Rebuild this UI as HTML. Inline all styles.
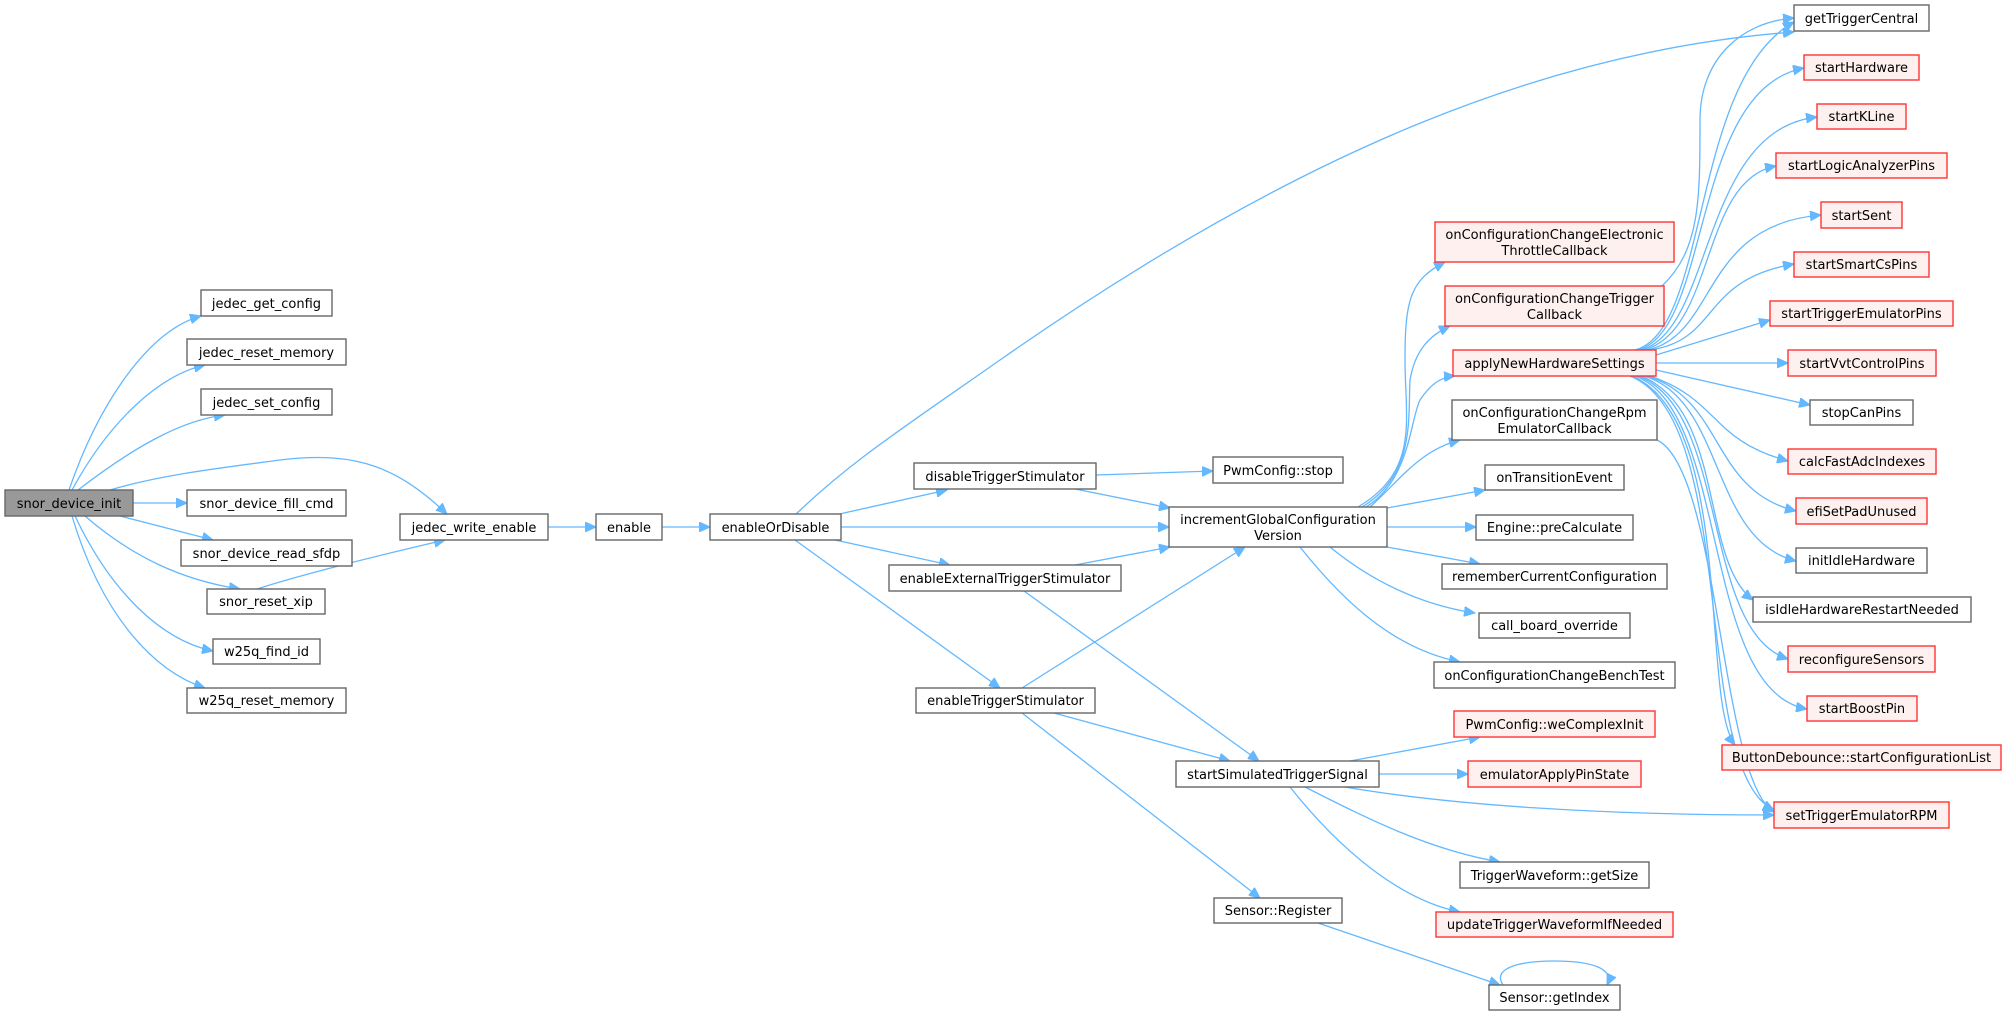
<!DOCTYPE html>
<html><head><meta charset="utf-8"><style>
html,body{margin:0;padding:0;background:#fff;}
svg{display:block;}
text{font-family:"DejaVu Sans","Liberation Sans",sans-serif;font-size:13px;fill:#000;}
.n rect{fill:#fff;stroke:#666;stroke-width:1.4;}
.r rect{fill:#fff0f0;stroke:#ff3333;stroke-width:1.4;}
.g rect{fill:#999;stroke:#666;stroke-width:1.4;}
path.e{fill:none;stroke:#63b8ff;stroke-width:1.3;marker-end:url(#a);}
</style></head><body>
<svg width="2007" height="1016" viewBox="0 0 2007 1016" xmlns="http://www.w3.org/2000/svg">
<defs><marker id="a" markerUnits="userSpaceOnUse" markerWidth="12" markerHeight="10" refX="11" refY="5" orient="auto"><path d="M0,0 L11,5 L0,10 z" fill="#63b8ff" stroke="#63b8ff"/></marker></defs>

<!-- edges -->
<path class="e" d="M69,490 C100,400 150,330 201,316"/>
<path class="e" d="M72,490 C110,420 160,375 205,365"/>
<path class="e" d="M78,490 C130,450 180,420 225,415"/>
<path class="e" d="M110,490 C160,475 220,468 280,460 C360,450 400,470 447,514"/>
<path class="e" d="M133,503 L187,503"/>
<path class="e" d="M120,516 L213,540"/>
<path class="e" d="M85,516 C130,555 180,580 240,589"/>
<path class="e" d="M75,516 C110,590 160,640 213,651"/>
<path class="e" d="M72,516 C100,610 150,670 205,688"/>
<path class="e" d="M257,589 C300,575 380,555 445,540"/>
<path class="e" d="M548,527 L596,527"/>
<path class="e" d="M662,527 L710,527"/>
<path class="e" d="M795,515 C850,462 900,430 1000,360 C1300,150 1550,50 1794,32"/>
<path class="e" d="M835,515 L947,490"/>
<path class="e" d="M841,527 L1169,527"/>
<path class="e" d="M835,540 L950,565"/>
<path class="e" d="M795,540 L1000,688"/>
<path class="e" d="M1096,475 L1213,471"/>
<path class="e" d="M1075,489 L1170,508"/>
<path class="e" d="M1075,565 L1170,547"/>
<path class="e" d="M1024,591 L1259,761"/>
<path class="e" d="M1022,688 L1245,547"/>
<path class="e" d="M1054,713 L1230,761"/>
<path class="e" d="M1022,713 L1260,898"/>
<!-- incrementGlobal fan -->
<path class="e" d="M1358,507 C1420,470 1405,420 1405,360 C1405,300 1410,280 1445,262"/>
<path class="e" d="M1362,507 C1415,475 1408,420 1410,380 C1415,350 1430,335 1450,326"/>
<path class="e" d="M1366,507 C1410,480 1410,420 1420,400 C1430,385 1440,377 1455,376"/>
<path class="e" d="M1370,507 C1400,480 1420,450 1460,440"/>
<path class="e" d="M1387,508 L1485,490"/>
<path class="e" d="M1387,527 L1476,527"/>
<path class="e" d="M1387,547 L1480,564"/>
<path class="e" d="M1330,547 C1370,580 1420,605 1475,613"/>
<path class="e" d="M1300,547 C1350,610 1400,650 1460,662"/>
<path class="e" d="M1662,286 C1700,250 1700,200 1700,120 C1700,60 1740,22 1794,18"/>
<!-- applyNew fan up -->
<path class="e" d="M1635,350 C1710,330 1690,80 1794,22"/>
<path class="e" d="M1638,350 C1712,330 1690,90 1804,68"/>
<path class="e" d="M1641,350 C1714,330 1700,130 1817,117"/>
<path class="e" d="M1644,350 C1716,330 1700,180 1776,166"/>
<path class="e" d="M1647,350 C1718,335 1700,225 1821,215"/>
<path class="e" d="M1650,350 C1720,340 1700,280 1794,264"/>
<path class="e" d="M1656,355 L1770,320"/>
<path class="e" d="M1656,363 L1788,363"/>
<path class="e" d="M1656,370 L1810,405"/>
<path class="e" d="M1650,376 C1720,400 1710,440 1788,461"/>
<path class="e" d="M1647,376 C1725,400 1710,490 1796,511"/>
<path class="e" d="M1644,376 C1725,400 1710,540 1796,561"/>
<path class="e" d="M1641,376 C1725,410 1700,560 1753,600"/>
<path class="e" d="M1638,376 C1730,410 1700,630 1788,659"/>
<path class="e" d="M1635,376 C1730,410 1700,690 1807,709"/>
<path class="e" d="M1632,376 C1735,420 1700,700 1735,745"/>
<path class="e" d="M1630,376 C1740,420 1690,770 1774,810"/>
<path class="e" d="M1657,440 C1720,470 1720,780 1774,812"/>
<!-- startSimulated -->
<path class="e" d="M1350,761 L1480,737"/>
<path class="e" d="M1379,774 L1468,774"/>
<path class="e" d="M1345,787 C1450,805 1600,815 1774,815"/>
<path class="e" d="M1305,787 C1370,820 1430,850 1500,862"/>
<path class="e" d="M1290,787 C1340,850 1400,900 1460,912"/>
<path class="e" d="M1318,923 L1500,985"/>
<path class="e" d="M1503,985 C1490,965 1530,961 1554,961 C1590,961 1615,968 1607,985"/>

<!-- nodes -->
<g class="g"><rect x="5" y="490" width="128" height="26"/><text x="69" y="508" text-anchor="middle">snor_device_init</text></g>
<g class="n"><rect x="201" y="290" width="131" height="26"/><text x="266.5" y="308" text-anchor="middle">jedec_get_config</text></g>
<g class="n"><rect x="187" y="339" width="159" height="26"/><text x="266.5" y="357" text-anchor="middle">jedec_reset_memory</text></g>
<g class="n"><rect x="201" y="389" width="131" height="26"/><text x="266.5" y="407" text-anchor="middle">jedec_set_config</text></g>
<g class="n"><rect x="187" y="490" width="159" height="26"/><text x="266.5" y="508" text-anchor="middle">snor_device_fill_cmd</text></g>
<g class="n"><rect x="181" y="540" width="171" height="26"/><text x="266.5" y="558" text-anchor="middle">snor_device_read_sfdp</text></g>
<g class="n"><rect x="207" y="589" width="118" height="25"/><text x="266" y="606" text-anchor="middle">snor_reset_xip</text></g>
<g class="n"><rect x="213" y="639" width="107" height="25"/><text x="266.5" y="656" text-anchor="middle">w25q_find_id</text></g>
<g class="n"><rect x="187" y="688" width="159" height="25"/><text x="266.5" y="705" text-anchor="middle">w25q_reset_memory</text></g>
<g class="n"><rect x="400" y="514" width="148" height="26"/><text x="474" y="532" text-anchor="middle">jedec_write_enable</text></g>
<g class="n"><rect x="596" y="514" width="66" height="26"/><text x="629" y="532" text-anchor="middle">enable</text></g>
<g class="n"><rect x="710" y="514" width="131" height="26"/><text x="775.5" y="532" text-anchor="middle">enableOrDisable</text></g>
<g class="n"><rect x="914" y="463" width="182" height="26"/><text x="1005" y="481" text-anchor="middle">disableTriggerStimulator</text></g>
<g class="n"><rect x="889" y="565" width="232" height="26"/><text x="1005" y="583" text-anchor="middle">enableExternalTriggerStimulator</text></g>
<g class="n"><rect x="916" y="688" width="179" height="25"/><text x="1005.5" y="705" text-anchor="middle">enableTriggerStimulator</text></g>
<g class="n"><rect x="1213" y="457" width="130" height="26"/><text x="1278" y="475" text-anchor="middle">PwmConfig::stop</text></g>
<g class="n"><rect x="1169" y="507" width="218" height="40"/><text x="1278" y="524" text-anchor="middle">incrementGlobalConfiguration</text><text x="1278" y="540" text-anchor="middle">Version</text></g>
<g class="n"><rect x="1176" y="761" width="203" height="26"/><text x="1277.5" y="779" text-anchor="middle">startSimulatedTriggerSignal</text></g>
<g class="n"><rect x="1214" y="898" width="128" height="25"/><text x="1278" y="915" text-anchor="middle">Sensor::Register</text></g>

<g class="r"><rect x="1435" y="222" width="239" height="40"/><text x="1554.5" y="239" text-anchor="middle">onConfigurationChangeElectronic</text><text x="1554.5" y="255" text-anchor="middle">ThrottleCallback</text></g>
<g class="r"><rect x="1445" y="286" width="219" height="40"/><text x="1554.5" y="303" text-anchor="middle">onConfigurationChangeTrigger</text><text x="1554.5" y="319" text-anchor="middle">Callback</text></g>
<g class="r"><rect x="1453" y="350" width="203" height="26"/><text x="1554.5" y="368" text-anchor="middle">applyNewHardwareSettings</text></g>
<g class="n"><rect x="1452" y="400" width="205" height="40"/><text x="1554.5" y="417" text-anchor="middle">onConfigurationChangeRpm</text><text x="1554.5" y="433" text-anchor="middle">EmulatorCallback</text></g>
<g class="n"><rect x="1485" y="465" width="139" height="25"/><text x="1554.5" y="482" text-anchor="middle">onTransitionEvent</text></g>
<g class="n"><rect x="1476" y="515" width="157" height="25"/><text x="1554.5" y="532" text-anchor="middle">Engine::preCalculate</text></g>
<g class="n"><rect x="1442" y="564" width="225" height="25"/><text x="1554.5" y="581" text-anchor="middle">rememberCurrentConfiguration</text></g>
<g class="n"><rect x="1479" y="613" width="151" height="25"/><text x="1554.5" y="630" text-anchor="middle">call_board_override</text></g>
<g class="n"><rect x="1434" y="662" width="241" height="26"/><text x="1554.5" y="680" text-anchor="middle">onConfigurationChangeBenchTest</text></g>
<g class="r"><rect x="1454" y="711" width="201" height="26"/><text x="1554.5" y="729" text-anchor="middle">PwmConfig::weComplexInit</text></g>
<g class="r"><rect x="1468" y="761" width="173" height="26"/><text x="1554.5" y="779" text-anchor="middle">emulatorApplyPinState</text></g>
<g class="n"><rect x="1460" y="862" width="189" height="26"/><text x="1554.5" y="880" text-anchor="middle">TriggerWaveform::getSize</text></g>
<g class="r"><rect x="1436" y="912" width="237" height="25"/><text x="1554.5" y="929" text-anchor="middle">updateTriggerWaveformIfNeeded</text></g>
<g class="n"><rect x="1489" y="985" width="131" height="25"/><text x="1554.5" y="1002" text-anchor="middle">Sensor::getIndex</text></g>

<g class="n"><rect x="1794" y="5" width="135" height="26"/><text x="1861.5" y="23" text-anchor="middle">getTriggerCentral</text></g>
<g class="r"><rect x="1804" y="55" width="115" height="25"/><text x="1861.5" y="72" text-anchor="middle">startHardware</text></g>
<g class="r"><rect x="1817" y="104" width="89" height="25"/><text x="1861.5" y="121" text-anchor="middle">startKLine</text></g>
<g class="r"><rect x="1776" y="153" width="171" height="25"/><text x="1861.5" y="170" text-anchor="middle">startLogicAnalyzerPins</text></g>
<g class="r"><rect x="1821" y="202" width="81" height="26"/><text x="1861.5" y="220" text-anchor="middle">startSent</text></g>
<g class="r"><rect x="1794" y="252" width="135" height="25"/><text x="1861.5" y="269" text-anchor="middle">startSmartCsPins</text></g>
<g class="r"><rect x="1770" y="301" width="183" height="25"/><text x="1861.5" y="318" text-anchor="middle">startTriggerEmulatorPins</text></g>
<g class="r"><rect x="1788" y="350" width="148" height="26"/><text x="1862" y="368" text-anchor="middle">startVvtControlPins</text></g>
<g class="n"><rect x="1810" y="400" width="103" height="25"/><text x="1861.5" y="417" text-anchor="middle">stopCanPins</text></g>
<g class="r"><rect x="1788" y="449" width="148" height="25"/><text x="1862" y="466" text-anchor="middle">calcFastAdcIndexes</text></g>
<g class="r"><rect x="1796" y="498" width="131" height="26"/><text x="1861.5" y="516" text-anchor="middle">efiSetPadUnused</text></g>
<g class="n"><rect x="1796" y="548" width="131" height="25"/><text x="1861.5" y="565" text-anchor="middle">initIdleHardware</text></g>
<g class="n"><rect x="1753" y="597" width="218" height="25"/><text x="1862" y="614" text-anchor="middle">isIdleHardwareRestartNeeded</text></g>
<g class="r"><rect x="1788" y="646" width="147" height="26"/><text x="1861.5" y="664" text-anchor="middle">reconfigureSensors</text></g>
<g class="r"><rect x="1807" y="696" width="110" height="25"/><text x="1862" y="713" text-anchor="middle">startBoostPin</text></g>
<g class="r"><rect x="1722" y="745" width="279" height="25"/><text x="1861.5" y="762" text-anchor="middle">ButtonDebounce::startConfigurationList</text></g>
<g class="r"><rect x="1774" y="802" width="175" height="26"/><text x="1861.5" y="820" text-anchor="middle">setTriggerEmulatorRPM</text></g>
</svg>
</body></html>
